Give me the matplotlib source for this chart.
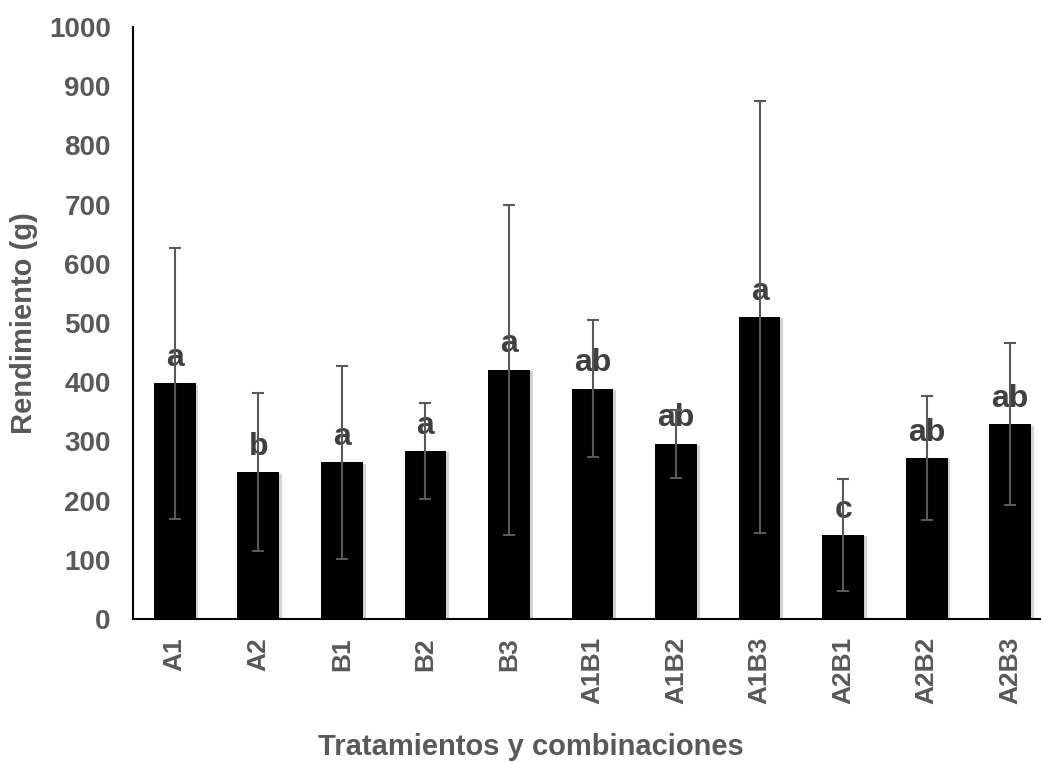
import matplotlib
matplotlib.use('Agg')
import matplotlib.pyplot as plt
import matplotlib.patheffects as pe
import numpy as np

# Yield per treatment / combination (mean +/- deviation) and Tukey letters
tratamientos = ['A1', 'A2', 'B1', 'B2', 'B3', 'A1B1', 'A1B2', 'A1B3', 'A2B1', 'A2B2', 'A2B3']
rendimiento = [398, 248, 265, 284, 421, 389, 296, 510, 142, 272, 329]
desviacion = [229, 133, 163, 81, 279, 116, 57, 365, 94, 104, 137]
letras = ['a', 'b', 'a', 'a', 'a', 'ab', 'ab', 'a', 'c', 'ab', 'ab']

plt.rcParams['font.family'] = ['Liberation Sans', 'DejaVu Sans']
gris = '#595959'

fig = plt.figure(figsize=(10.41, 7.62), dpi=100)
ax = fig.add_axes([133 / 1041, (762 - 619) / 762, (1052 - 133) / 1041, (619 - 27) / 762])

x = np.arange(len(tratamientos))
bars = ax.bar(x, rendimiento, width=0.5, color='black', zorder=2)
for b in bars:
    b.set_path_effects([pe.SimplePatchShadow(offset=(2, -1), shadow_rgbFace='gray', alpha=0.35), pe.Normal()])

ax.errorbar(x, rendimiento, yerr=desviacion, fmt='none', ecolor=gris,
            elinewidth=1.5, capsize=4.5, capthick=1.5, zorder=4)

for xi, val, txt in zip(x, rendimiento, letras):
    ax.annotate(txt, (xi, val), xytext=(0, 12.5), textcoords='offset points',
                ha='center', va='baseline', fontsize=23, fontweight='bold',
                color='#404040', zorder=3)

ax.set_xlim(-0.5, len(tratamientos) - 0.5)
ax.set_ylim(0, 1000)
ax.set_yticks(np.arange(0, 1001, 100))
ax.set_xticks(x)
ax.set_xticklabels(tratamientos, rotation=90)

ax.tick_params(axis='y', length=0, labelsize=20, labelcolor=gris, pad=16)
ax.tick_params(axis='x', length=0, labelsize=19, labelcolor=gris, pad=13)
for lbl in ax.get_xticklabels() + ax.get_yticklabels():
    lbl.set_fontweight('bold')

for s in ['top', 'right']:
    ax.spines[s].set_visible(False)
ax.spines['left'].set_linewidth(1.5)
ax.spines['bottom'].set_linewidth(1.5)

ax.set_ylabel('Rendimiento (g)', fontsize=21, fontweight='bold', color=gris, labelpad=8)
ax.set_xlabel('Tratamientos y combinaciones', fontsize=21, fontweight='bold', color=gris)
# title sits centred under the visible part of the plot
ax.xaxis.set_label_coords(0.433, -0.192)

fig.savefig('out.png', dpi=100)
